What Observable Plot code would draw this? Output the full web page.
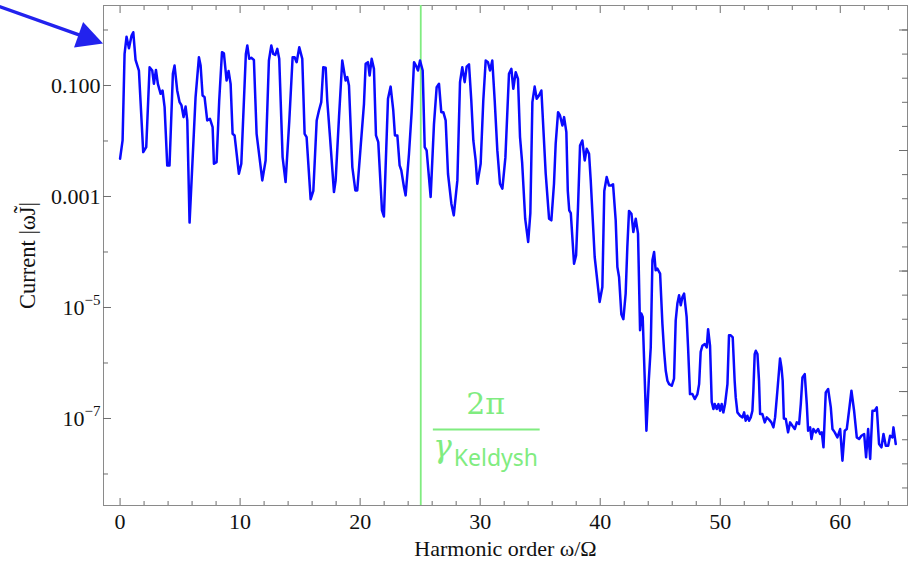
<!DOCTYPE html>
<html>
<head>
<meta charset="utf-8">
<script src="https://cdn.jsdelivr.net/npm/d3@7"></script>
<script src="https://cdn.jsdelivr.net/npm/@observablehq/plot@0.6"></script>
<style>
  html, body { margin: 0; padding: 0; background: #fff; }
  #chart { width: 917px; height: 567px; }
</style>
</head>
<body>
<div id="chart"></div>
<script>
// ---- data ----
const harmonic = [
  0.0, 0.21, 0.375, 0.54, 0.74, 0.96, 1.1, 1.29, 1.57, 1.93,
  2.18, 2.46, 2.68, 2.82, 2.99, 3.15, 3.38, 3.54, 3.71, 3.93,
  4.12, 4.4, 4.54, 4.76, 4.96, 5.12, 5.29, 5.46, 5.6, 5.79,
  6.29, 6.57, 6.71, 6.875, 7.04, 7.26, 7.49, 7.71, 7.82, 8.04,
  8.26, 8.49, 8.65, 8.875, 9.04, 9.21, 9.375, 9.54, 9.9, 10.1,
  10.48, 10.6, 10.76, 10.93, 11.15, 11.375, 11.85, 12.125, 12.4, 12.6,
  12.76, 12.93, 13.1, 13.26, 13.54, 13.79, 14.1, 14.375, 14.54, 14.71,
  14.93, 15.18, 15.375, 15.54, 15.875, 16.1, 16.38, 16.57, 16.76, 16.93,
  17.13, 17.26, 17.49, 17.82, 17.96, 18.24, 18.51, 18.79, 18.93, 19.07,
  19.35, 19.6, 19.76, 20.04, 20.32, 20.46, 20.65, 20.79, 20.96, 21.15,
  21.32, 21.51, 21.82, 21.98, 22.32, 22.54, 22.76, 22.9, 23.1, 23.29,
  23.43, 23.65, 23.79, 24.07, 24.29, 24.49, 24.65, 24.82, 24.99, 25.21,
  25.38, 25.54, 25.875, 26.15, 26.375, 26.57, 26.76, 26.93, 27.125, 27.32,
  27.6, 27.8, 28.1, 28.32, 28.51, 28.71, 28.875, 29.07, 29.26, 29.43,
  29.625, 29.76, 30.04, 30.26, 30.46, 30.65, 30.82, 31.01, 31.21, 31.43,
  31.65, 31.85, 32.1, 32.4, 32.6, 32.76, 32.96, 33.15, 33.32, 33.5,
  33.75, 34.0, 34.18, 34.35, 34.54, 34.71, 34.9, 35.1, 35.46, 35.74,
  35.93, 36.15, 36.29, 36.49, 36.65, 36.85, 36.99, 37.18, 37.3, 37.42,
  37.55, 37.82, 37.99, 38.15, 38.32, 38.51, 38.71, 38.875, 39.07, 39.21,
  39.54, 39.95, 40.18, 40.34, 40.54, 40.73, 40.93, 41.07, 41.29, 41.43,
  41.57, 41.76, 41.93, 42.12, 42.26, 42.4, 42.6, 42.76, 42.96, 43.15,
  43.32, 43.43, 43.54, 43.65, 43.85, 44.05, 44.21, 44.35, 44.49, 44.62,
  44.76, 44.99, 45.18, 45.32, 45.46, 45.6, 45.74, 45.96, 46.15, 46.29,
  46.43, 46.57, 46.71, 46.85, 46.99, 47.2, 47.32, 47.48, 47.68, 47.875,
  48.1, 48.24, 48.37, 48.51, 48.71, 48.875, 48.99, 49.15, 49.29, 49.43,
  49.54, 49.71, 49.85, 49.99, 50.12, 50.26, 50.4, 50.6, 50.73, 50.87,
  51.04, 51.2, 51.29, 51.43, 51.65, 51.85, 51.99, 52.12, 52.26, 52.4,
  52.54, 52.68, 52.76, 52.87, 52.96, 53.1, 53.23, 53.32, 53.51, 53.71,
  53.875, 54.07, 54.26, 54.43, 54.57, 54.76, 54.98, 55.1, 55.2, 55.3,
  55.46, 55.65, 55.82, 56.01, 56.21, 56.375, 56.57, 56.71, 56.85, 57.04,
  57.21, 57.32, 57.49, 57.6, 57.76, 57.96, 58.15, 58.32, 58.46, 58.6,
  58.79, 58.99, 59.21, 59.35, 59.54, 59.76, 59.99, 60.18, 60.37, 60.54,
  60.73, 60.93, 61.15, 61.375, 61.57, 61.76, 61.99, 62.15, 62.32, 62.49,
  62.68, 62.875, 63.04, 63.23, 63.43, 63.6, 63.79, 63.99, 64.15, 64.35,
  64.43, 64.62
];
// log10 of the current |ωJ̃|
const log10Current = [
  -2.32, -1.99, -0.43, -0.12, -0.33, -0.10, -0.04, -0.54, -0.73, -2.2,
  -2.11, -0.67, -0.73, -0.97, -0.72, -0.97, -1.15, -1.09, -1.39, -2.44,
  -2.44, -0.79, -0.64, -1.09, -1.30, -1.36, -1.57, -1.38, -1.63, -3.47,
  -1.21, -0.49, -0.64, -1.18, -1.21, -1.63, -1.60, -1.75, -2.41, -2.38,
  -1.27, -0.40, -0.42, -0.91, -0.74, -0.97, -1.87, -1.90, -2.59, -2.41,
  -0.43, -0.28, -0.52, -0.50, -0.54, -1.87, -2.71, -2.35, -0.55, -0.28,
  -0.43, -0.45, -0.34, -0.52, -2.29, -2.74, -1.63, -0.49, -0.49, -0.58,
  -0.31, -0.52, -1.87, -1.93, -3.05, -2.9, -1.63, -1.45, -1.30, -0.67,
  -0.68, -1.27, -1.93, -2.92, -2.71, -1.57, -0.55, -0.91, -0.85, -1.0,
  -2.47, -2.89, -2.89, -2.11, -1.33, -0.61, -0.58, -0.82, -0.52, -0.70,
  -1.90, -2.02, -3.25, -3.36, -1.24, -1.02, -1.45, -1.90, -1.90, -2.44,
  -2.53, -2.83, -2.98, -2.23, -1.48, -0.58, -0.64, -0.73, -0.55, -0.73,
  -2.11, -2.17, -3.01, -1.7, -1.03, -0.97, -1.48, -1.48, -1.63, -2.59,
  -3.13, -3.34, -2.71, -0.94, -0.67, -0.94, -0.66, -0.62, -1.27, -1.99,
  -2.35, -2.77, -2.41, -1.27, -0.55, -0.58, -0.73, -0.55, -1.27, -2.17,
  -2.77, -2.86, -2.3, -0.79, -0.70, -1.06, -0.76, -0.88, -1.93, -2.4,
  -3.4, -3.82, -3.3, -1.3, -1.02, -1.24, -1.18, -1.09, -2.59, -3.40,
  -3.43, -2.77, -2.05, -1.48, -1.54, -1.72, -1.57, -1.84, -2.9, -3.25,
  -3.3, -4.21, -4.06, -3.2, -2.08, -1.99, -2.35, -2.14, -2.23, -2.71,
  -4.09, -4.9, -4.63, -2.9, -2.65, -2.80, -2.80, -2.78, -3.43, -4.27,
  -4.45, -5.12, -5.21, -4.75, -3.91, -3.26, -3.31, -3.64, -3.40, -3.67,
  -5.41, -5.11, -5.17, -5.90, -7.22, -6.3, -5.72, -4.15, -4.00, -4.33,
  -4.30, -4.39, -5.29, -5.78, -6.14, -6.32, -6.38, -6.41, -6.28, -5.23,
  -4.93, -4.78, -4.96, -4.81, -4.75, -5.17, -5.72, -6.56, -6.56, -6.65,
  -6.56, -6.38, -5.8, -5.69, -5.66, -5.72, -5.39, -5.69, -6.7, -6.83,
  -6.74, -6.83, -6.74, -6.86, -6.74, -6.89, -6.74, -6.38, -5.50, -5.50,
  -5.54, -6.32, -6.62, -6.89, -6.95, -6.98, -6.89, -7.04, -6.95, -7.04,
  -6.98, -6.86, -6.50, -5.84, -5.78, -5.84, -6.32, -6.92, -6.92, -7.07,
  -6.98, -7.02, -7.07, -7.16, -6.98, -6.50, -5.92, -6.08, -6.32, -7.0,
  -7.01, -7.25, -7.07, -7.13, -7.19, -7.07, -7.10, -6.74, -6.26, -6.20,
  -6.74, -7.22, -7.16, -7.37, -7.19, -7.25, -7.19, -7.28, -7.25, -7.52,
  -6.53, -6.47, -6.80, -7.19, -7.25, -7.34, -7.19, -7.76, -7.22, -7.19,
  -6.86, -6.50, -6.86, -7.34, -7.37, -7.31, -7.28, -7.70, -7.19, -7.73,
  -6.86, -6.86, -6.80, -7.46, -7.52, -7.28, -7.49, -7.49, -7.31, -7.34,
  -7.16, -7.46
];

const xMajorTicks = [0, 10, 20, 30, 40, 50, 60];
const xMinorTicks = [2, 4, 6, 8, 12, 14, 16, 18, 22, 24, 26, 28, 32, 34, 36, 38, 42, 44, 46, 48, 52, 54, 56, 58, 62, 64];
const yMajorTicks = [1e-1, 1e-3, 1e-5, 1e-7];
const yMajorLabels = ["0.100", "0.001", "10^\u22125", "10^\u22127"];
const yMinorTicks = [1, 1e-2, 1e-4, 1e-6, 1e-8];
// right frame ticks sit at powers of e: e^-k
const rightTickExponents = [0,1,2,3,4,5,6,7,8,9,10,11,12,13,14,15,16,17,18,19];
const rightMajorExponents = [0, 5, 10, 15];

const keldyshOrder = [25.05];
const fractionX = [26.1, 35.0];      // extent of the fraction bar
const fractionCenterX = 30.46;
const fractionY = 6.34e-8;
const gammaX = 26.1;
const keldyshTextX = 27.8;

const arrowX = [-10.8, -1.375];      // tail, tip
const arrowY = [2.98, 0.56];

const xTitle = "Harmonic order ω/Ω";
const yTitle = "Current |ωJ̃|";

// ---- build table ----
const spectrum = harmonic.map((h, i) => ({h, current: Math.pow(10, log10Current[i])}));

const blue = "#0a0aff";
const green = "#80ec80";
const tickColor = "#6e6e6e";

function arrowMark(index, scales) {
  const x1 = scales.x(arrowX[0]), y1 = scales.y(arrowY[0]);
  const x2 = scales.x(arrowX[1]), y2 = scales.y(arrowY[1]);
  const a = Math.atan2(y2 - y1, x2 - x1);
  const L = 26, W = 13.5;
  const bx = x2 - L * Math.cos(a), by = y2 - L * Math.sin(a);
  const nx = -Math.sin(a), ny = Math.cos(a);
  const g = d3.create("svg:g").attr("aria-label", "arrow");
  g.append("line")
    .attr("x1", x1).attr("y1", y1)
    .attr("x2", bx + 2 * Math.cos(a)).attr("y2", by + 2 * Math.sin(a))
    .attr("stroke", "#2222ee").attr("stroke-width", 3.4);
  g.append("path")
    .attr("d", `M${x2},${y2}L${bx + nx * W},${by + ny * W}L${bx - nx * W},${by - ny * W}Z`)
    .attr("fill", "#2222ee");
  return g.node();
}

const plot = Plot.plot({
  width: 917,
  height: 567,
  marginLeft: 103,
  marginRight: 10,
  marginTop: 5,
  marginBottom: 62,
  style: {
    fontFamily: "'Liberation Serif', 'Times New Roman', serif",
    fontSize: "22px",
    color: "#111",
    background: "#fff",
    overflow: "visible"
  },
  x: {domain: [-1.38, 65.6]},
  y: {type: "log", domain: [Math.pow(10, -8.5676), Math.pow(10, 0.4414)]},
  marks: [
    Plot.frame({stroke: "#8a8a8a", strokeWidth: 1}),
    // bottom & top ticks (inward)
    Plot.axisX(xMajorTicks, {anchor: "bottom", tickSize: -7, fill: "none", stroke: tickColor}),
    Plot.axisX(xMinorTicks, {anchor: "bottom", tickSize: -4, fill: "none", stroke: tickColor}),
    Plot.axisX(xMajorTicks, {anchor: "top", tickSize: -7, fill: "none", stroke: tickColor}),
    Plot.axisX(xMinorTicks, {anchor: "top", tickSize: -4, fill: "none", stroke: tickColor}),
    Plot.axisX(xMajorTicks, {anchor: "bottom", tickSize: 0, tickPadding: 8, label: null, tickFormat: d => String(d)}),
    // left ticks
    Plot.axisY(yMajorTicks, {anchor: "left", tickSize: -8, fill: "none", stroke: tickColor}),
    Plot.axisY(yMinorTicks, {anchor: "left", tickSize: -5, fill: "none", stroke: tickColor}),
    Plot.axisY(yMajorTicks, {anchor: "left", tickSize: 0, tickPadding: 3, label: null,
      tickFormat: d => yMajorLabels[yMajorTicks.indexOf(d)]}),
    // right ticks at powers of e
    Plot.axisY(rightTickExponents.map(k => Math.exp(-k)), {anchor: "right", tickSize: -6, fill: "none", stroke: tickColor}),
    Plot.axisY(rightMajorExponents.map(k => Math.exp(-k)), {anchor: "right", tickSize: -9, fill: "none", stroke: tickColor}),
    // Keldysh line
    Plot.ruleX(keldyshOrder, {stroke: green, strokeWidth: 1.8}),
    // data
    Plot.line(spectrum, {x: "h", y: "current", stroke: blue, strokeWidth: 2.5, strokeLinejoin: "round"}),
    // fraction label
    Plot.ruleY([{y: fractionY, x1: fractionX[0], x2: fractionX[1]}], {y: "y", x1: "x1", x2: "x2", stroke: green, strokeWidth: 2.2}),
    Plot.text([{x: fractionCenterX, y: fractionY}], {x: "x", y: "y", text: () => "2π", dy: -25,
      fill: green, fontSize: 30, fontFamily: "'DejaVu Serif', serif", textAnchor: "middle"}),
    Plot.text([{x: gammaX, y: fractionY}], {x: "x", y: "y", text: () => "γ", dy: 18,
      fill: green, fontSize: 31, fontStyle: "italic", fontFamily: "'DejaVu Serif', serif", textAnchor: "start"}),
    Plot.text([{x: keldyshTextX, y: fractionY}], {x: "x", y: "y", text: () => "Keldysh", dy: 29,
      fill: green, fontSize: 23, fontFamily: "'Noto Sans', 'DejaVu Sans', sans-serif", textAnchor: "start"}),
    // axis titles
    Plot.text([xTitle], {frameAnchor: "bottom", dy: 50, textAnchor: "middle", ariaLabel: "x-title", fill: "#111"}),
    Plot.text([yTitle], {frameAnchor: "left", dx: -76, rotate: -90, textAnchor: "middle", ariaLabel: "y-title", fill: "#111", fontSize: 22.5}),
    // arrow
    arrowMark
  ]
});

document.getElementById("chart").appendChild(plot);

// ---- rich text (italics / superscripts) ----
const SVGNS = "http://www.w3.org/2000/svg";
function richify(textEl, parts) {
  const target = textEl.querySelector("tspan") || textEl;
  target.textContent = "";
  for (const p of parts) {
    const t = document.createElementNS(SVGNS, "tspan");
    t.textContent = p.text;
    if (p.italic) t.setAttribute("font-style", "italic");
    if (p.sup) { t.setAttribute("font-size", "0.68em"); t.setAttribute("dy", "-0.62em"); }
    target.appendChild(t);
  }
}
plot.querySelectorAll("text").forEach(el => {
  const s = el.textContent;
  if (s.includes("^")) {
    const [base, exp] = s.split("^");
    richify(el, [{text: base}, {text: exp, sup: true}]);
  }
});
const xt = plot.querySelector('g[aria-label="x-title"] text');
if (xt) richify(xt, [{text: "Harmonic order "}, {text: "ω", italic: true}, {text: "/Ω"}]);
const yt = plot.querySelector('g[aria-label="y-title"] text');
if (yt) richify(yt, [{text: "Current |"}, {text: "ωJ̃", italic: true}, {text: "|"}]);
</script>
</body>
</html>
